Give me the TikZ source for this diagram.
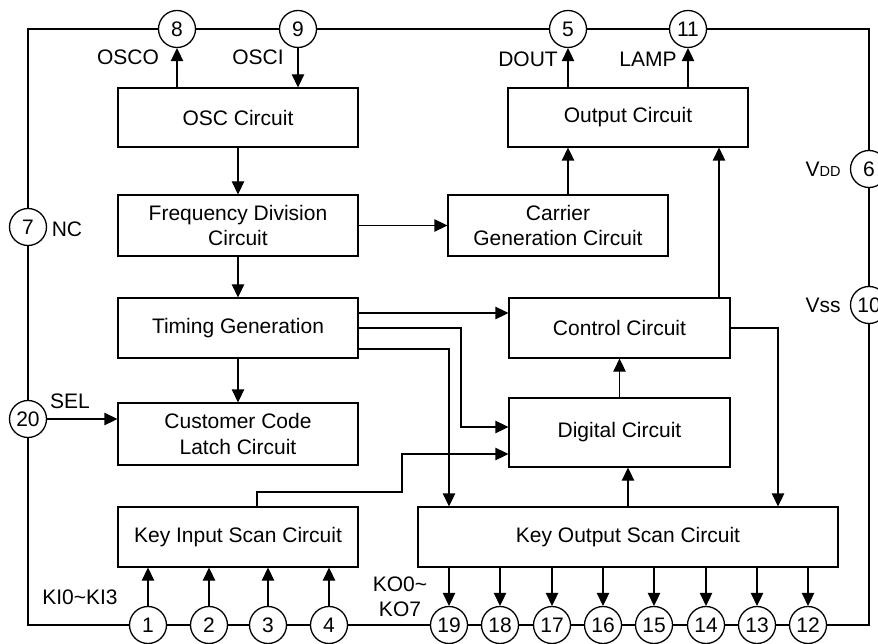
\documentclass[tikz,border=0pt]{standalone}
\usepackage{fontspec}
\setmainfont{Liberation Sans}
\usetikzlibrary{arrows.meta}
\begin{document}
\begin{tikzpicture}[x=1pt,y=-1pt,
  every node/.style={font=\fontsize{21}{25.5}\selectfont},
  box/.style={draw, line width=1.3pt, inner sep=0pt, align=center},
  pin/.style={draw, circle, fill=white, line width=1.3pt, minimum size=37pt, inner sep=0pt},
  conn/.style={line width=1.3pt, -{Triangle[length=13pt,width=12.5pt]}},
  wire/.style={line width=1.3pt},
  lbl/.style={inner sep=0pt, align=center}]
\useasboundingbox (0,0) rectangle (878,644);
% chip outline
\draw[line width=2.7pt] (28,29) rectangle (869,625);
% boxes
\node[box, minimum width=240pt, minimum height=59pt] (osc) at (238,117.5) {OSC Circuit};
\node[box, minimum width=240pt, minimum height=61pt] (freq) at (238,225.5) {Frequency Division\\Circuit};
\node[box, minimum width=240pt, minimum height=60pt] (timing) at (238,328) {Timing Generation};
\node[box, minimum width=240pt, minimum height=62pt] (cust) at (238,434) {Customer Code\\Latch Circuit};
\node[box, minimum width=240pt, minimum height=60pt] (keyin) at (238,537) {Key Input Scan Circuit};
\node[box, minimum width=240pt, minimum height=59pt] (out) at (628,117.5) {Output Circuit};
\node[box, minimum width=220pt, minimum height=61pt] (carrier) at (558,225.5) {Carrier\\Generation Circuit};
\node[box, minimum width=221pt, minimum height=60pt] (control) at (619.5,328) {Control Circuit};
\node[box, minimum width=221pt, minimum height=69pt] (digital) at (619.5,432.5) {Digital Circuit};
\node[box, minimum width=420pt, minimum height=60pt] (keyout) at (628,537) {Key Output Scan Circuit};
% pins
\node[pin] (p8) at (177,29) {8};
\node[pin] (p9) at (298,29) {9};
\node[pin] (p5) at (568,29) {5};
\node[pin] (p11) at (688,29) {11};
\node[pin] (p7) at (28,227) {7};
\node[pin] (p20) at (28,419) {20};
\node[pin] (p6) at (869,169) {6};
\node[pin] (p10) at (869,305) {10};
\foreach \n/\x in {1/148,2/209,3/268,4/329}{
  \node[pin] (p\n) at (\x,625) {\n};
  \draw[conn] (p\n.north) -- (keyin.south -| p\n);
}
\foreach \n/\x in {19/449,18/500,17/552,16/603,15/654,14/706,13/757,12/808}{
  \node[pin] (p\n) at (\x,625) {\n};
  \draw[conn] (keyout.south -| p\n) -- (p\n.north);
}
% labels
\node[lbl] (lOSCO) at (128,57) {OSCO};
\node[lbl] (lOSCI) at (258,57) {OSCI};
\node[lbl] (lDOUT) at (528,59) {DOUT};
\node[lbl] (lLAMP) at (648,59) {LAMP};
\node[lbl] (lNC) at (67,229) {NC};
\node[lbl] (lSEL) at (70,401) {SEL};
\node[lbl] (lVDD) at (823,169) {V{\fontsize{14.5}{14.5}\selectfont DD}};
\node[lbl] (lVSS) at (823,305) {Vss};
\node[lbl] (lKI) at (80,597) {KI0\textasciitilde KI3};
\node[lbl] (lKO) at (400,597) {KO0\textasciitilde\\KO7};
% helper coordinates
\coordinate (t1) at ([yshift=15pt]timing.east);
\coordinate (t3) at ([yshift=-21pt]timing.east);
\coordinate (d1) at ([yshift=5.5pt]digital.west);
\coordinate (d2) at ([yshift=-21.5pt]digital.west);
\coordinate (j1) at (461,0);
\coordinate (j2) at (449,0);
\coordinate (j3) at (778,0);
\coordinate (c719) at (719,0);
\coordinate (k1) at (257,492);
\coordinate (k2) at (402,492);
% connectors
\draw[conn] (osc.north -| p8) -- (p8.south);
\draw[conn] (p9.south) -- (osc.north -| p9);
\draw[conn] (out.north -| p5) -- (p5.south);
\draw[conn] (out.north -| p11) -- (p11.south);
\draw[conn] (osc.south) -- (freq.north);
\draw[conn] (freq.south) -- (timing.north);
\draw[conn] (timing.south) -- (cust.north);
\draw[conn] (freq.east) -- (carrier.west);
\draw[conn] (carrier.north -| p5) -- (out.south -| p5);
\draw[conn] (control.north -| c719) -- (out.south -| c719);
\draw[conn] (p20.east) -- (p20.east -| cust.west);
\draw[conn] (t1) -- (t1 -| control.west);
\draw[conn] (timing.east) -| (j1 |- d1) -- (d1);
\draw[conn] (t3) -| (keyout.north -| j2);
\draw[conn] (keyin.north -| k1) -- (k1) -- (k2) -- (k2 |- d2) -- (d2);
\draw[conn] (digital.north) -- (control.south);
\draw[conn] (keyout.north) -- (keyout.north |- digital.south);
\draw[conn] (control.east) -| (keyout.north -| j3);
\end{tikzpicture}
\end{document}
